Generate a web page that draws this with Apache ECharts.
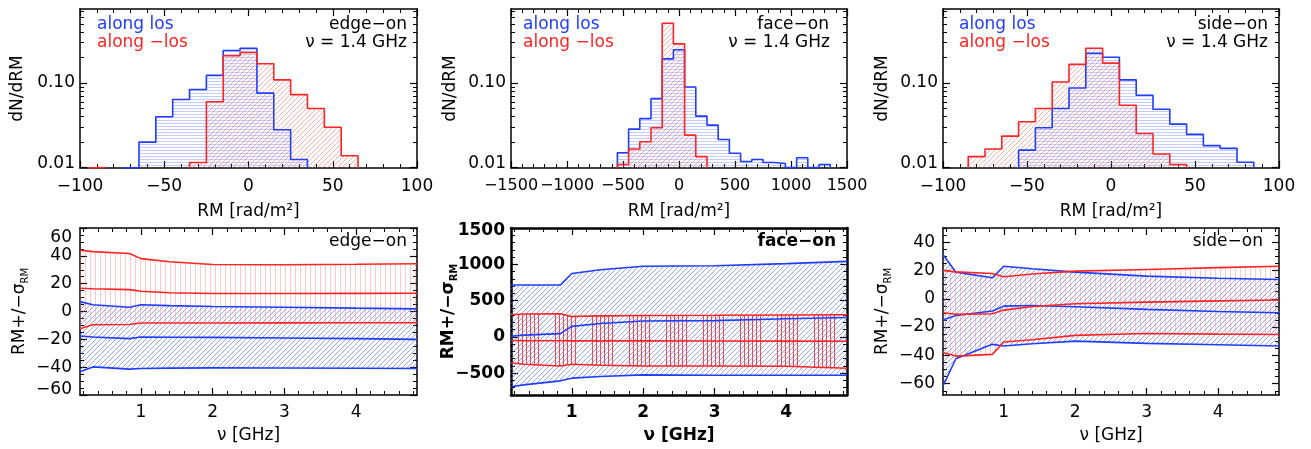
<!DOCTYPE html>
<html>
<head>
<meta charset="utf-8">
<script src="https://cdn.jsdelivr.net/npm/echarts@6/dist/echarts.min.js"></script>
<style>
html, body { margin: 0; padding: 0; background: #fff; }
#main { width: 1311px; height: 449px; }
</style>
</head>
<body>
<div id="main"></div>
<script>
// ---- top row: RM histograms, bin i spans start + i*width .. start + (i+1)*width ----
var edgeLosStart = -75;
var edgeLos = [0.010, 0.020, 0.040, 0.064, 0.084, 0.123, 0.242, 0.257, 0.076, 0.028, 0.0125];
var edgeNegStart = -95;
var edgeNeg = [0.010, null, null, null, null, null, 0.0115, 0.060, 0.21, 0.23, 0.169, 0.109, 0.073, 0.050, 0.030, 0.0138];

var faceLosStart = -550;
var faceLos = [0.0150, 0.0285, 0.038, 0.0655, 0.193, 0.247, 0.0897, 0.0406, 0.0318, 0.0215, 0.0148,
               0.0118, 0.0125, 0.0115, 0.0112, 0.010, 0.0131, 0.010, 0.0109];
var faceNegStart = -550;
var faceNeg = [0.0109, 0.0166, 0.0202, 0.0296, 0.508, 0.29, 0.0242, 0.0135];

var sideLosStart = -55;
var sideLos = [0.0161, 0.0296, 0.050, 0.0873, 0.225, 0.202, 0.109, 0.0716, 0.049, 0.0327, 0.0247, 0.0182, 0.0169, 0.0116];
var sideNegStart = -85;
var sideNeg = [0.0135, 0.0166, 0.0236, 0.0348, 0.050, 0.103, 0.166, 0.258, 0.172, 0.0546, 0.0253, 0.0145, 0.0109];

var smallBinWidth = 10;
var largeBinWidth = 100;

// ---- bottom row: RM and RM +/- sigma versus frequency ----
var freq = [0.15, 0.33, 0.84, 1.0, 1.4, 2.0, 3.0, 4.0, 4.85];

var edgeLosHi  = [7.1, 4.8, 3.1, 4.8, 4.2, 3.6, 3.0, 2.4, 1.9];
var edgeLosMid = [-17.6, -18.3, -19.5, -18.3, -18.5, -18.6, -19.0, -19.5, -20.0];
var edgeLosLo  = [-43.3, -39.8, -41.4, -41.0, -40.7, -40.5, -40.6, -40.8, -41.0];
var edgeNegHi  = [44.0, 43.0, 41.7, 38.0, 35.8, 33.8, 33.6, 33.9, 34.3];
var edgeNegMid = [16.7, 16.3, 15.7, 14.5, 13.5, 12.9, 12.9, 13.0, 13.1];
var edgeNegLo  = [-12.4, -9.5, -9.3, -8.3, -8.3, -8.3, -8.2, -8.1, -8.1];

var faceLosHi  = [714, 714, 714, 873, 925, 973, 980, 1010, 1041];
var faceLosMid = [9, 25, 45, 145, 185, 220, 225, 250, 268];
var faceLosLo  = [-686, -660, -605, -568, -545, -523, -527, -527, -527];
var faceNegHi  = [305, 315, 318, 282, 290, 295, 298, 302, 305];
var faceNegMid = [-50, -52, -52, -55, -55, -55, -56, -58, -59];
var faceNegLo  = [-355, -377, -400, -377, -390, -400, -400, -405, -432];

var sideLosHi  = [31.3, 18.8, 14.8, 23.0, 21.2, 18.8, 16.0, 14.5, 13.6];
var sideLosMid = [-15.0, -11.8, -8.7, -5.2, -4.8, -5.6, -7.5, -9.0, -9.9];
var sideLosLo  = [-61.6, -42.4, -32.2, -33.4, -31.8, -29.9, -31.5, -32.5, -33.4];
var sideNegHi  = [20.0, 19.0, 17.9, 15.5, 17.5, 19.5, 20.7, 22.0, 23.0];
var sideNegMid = [-9.9, -11.0, -10.6, -8.0, -5.5, -3.5, -2.4, -1.5, -0.9];
var sideNegLo  = [-38.0, -40.5, -39.3, -30.6, -29.0, -25.9, -24.5, -25.0, -25.2];

// ---- tick values ----
var rmTicks = [-100, -50, 0, 50, 100];
var rmTicksFace = [-1500, -1000, -500, 0, 500, 1000, 1500];
var logTicks = [0.01, 0.1];
var logMinor = [0.02, 0.03, 0.04, 0.05, 0.06, 0.07, 0.08, 0.09, 0.2, 0.3, 0.4, 0.5, 0.6, 0.7];
var freqTicks = [1, 2, 3, 4];
var edgeTicks = [-60, -40, -20, 0, 20, 40, 60];
var faceTicks = [-500, 0, 500, 1000, 1500];
var sideTicks = [-60, -40, -20, 0, 20, 40];

var BLUE = '#1f3dff';
var RED = '#ff2424';
var FONT = 'DejaVu Sans';
var FS = 17;

function steps(a, b, s, skip) {
    var out = [];
    for (var v = a; v <= b + s * 1e-6; v += s) {
        var r = Math.round(v * 1000) / 1000;
        var hit = skip.some(function (k) { return Math.abs(k - r) < 1e-9; });
        if (!hit) out.push(r);
    }
    return out;
}

function numText(v) {
    return String(Math.round(v * 1000) / 1000).replace('-', '\u2212');
}

// labels that sit on the frame corner are nudged inwards, like the original
var nudge = {
    up: [0, 0, 9, 0],
    upS: [0, 0, 10, 0],
    down: [20, 0, 0, 0],
    downS: [6, 0, 0, 0]
};
function makeFmt(shift, base) {
    return function (v) {
        var t = base ? base(v) : numText(v);
        for (var k in shift) {
            if (Math.abs(Number(k) - v) < 1e-6) return '{' + shift[k] + '|' + t + '}';
        }
        return t;
    };
}

// hatch fills drawn into small repeating tiles, pixel by pixel
function hatch(kind, color, gap, marks) {
    var c = document.createElement('canvas');
    var ctx;
    if (kind === 'h') {
        c.width = 8; c.height = gap;
        ctx = c.getContext('2d');
        ctx.fillStyle = color;
        ctx.fillRect(0, 0, 8, 1);
    } else if (kind === 'v') {
        c.width = gap; c.height = 8;
        ctx = c.getContext('2d');
        ctx.fillStyle = color;
        (marks || [0]).forEach(function (x) { ctx.fillRect(x, 0, 1, 8); });
    } else {
        c.width = gap; c.height = gap;
        ctx = c.getContext('2d');
        ctx.fillStyle = color;
        for (var i = 0; i < gap; i++) ctx.fillRect(i, gap - 1 - i, 1, 1);
    }
    return { image: c, repeat: 'repeat' };
}

var fillHistBlue = hatch('h', 'rgba(110,130,255,0.4)', 3);
var fillHistRed = hatch('d', 'rgba(255,100,100,0.5)', 5);
var fillBandBlue = hatch('d', 'rgba(80,105,255,0.6)', 5);
var fillBandRed = hatch('v', 'rgba(255,120,120,0.4)', 5);
var fillBandRedFace = hatch('v', 'rgb(255,70,70)', 37, [0, 4, 8, 12, 16, 20]);

// one grid gets 4 x axes and 4 y axes: main + minor ticks, mirrored on the opposite side
function axes(dim, gi, o) {
    var sides = dim === 'x' ? ['bottom', 'top'] : ['left', 'right'];
    var list = [];
    var weight = o.bold ? 'bold' : 'normal';
    var rich = {};
    for (var key in nudge) {
        rich[key] = { padding: nudge[key], fontFamily: FONT, fontSize: FS, fontWeight: weight, color: '#000' };
    }
    sides.forEach(function (side, k) {
        list.push({
            type: o.type || 'value', gridIndex: gi, position: side, min: o.min, max: o.max,
            name: k === 0 ? o.name : '', nameLocation: 'middle', nameGap: o.nameGap,
            nameMoveOverlap: false,
            nameTextStyle: { color: '#000', fontFamily: FONT, fontSize: FS, fontWeight: weight, rich: o.rich },
            axisLine: { show: true, onZero: false, lineStyle: { color: '#000', width: o.frame } },
            axisTick: { show: true, inside: true, length: 7, customValues: o.major, lineStyle: { color: '#000', width: 1.2 } },
            axisLabel: {
                show: k === 0, customValues: o.major, margin: o.margin,
                formatter: makeFmt(o.shift || {}, o.fmt),
                color: '#000', fontFamily: FONT, fontSize: o.labelSize || FS, fontWeight: weight,
                showMinLabel: true, showMaxLabel: true, hideOverlap: false, interval: 0,
                rich: rich
            },
            splitLine: { show: false }
        });
        list.push({
            type: o.type || 'value', gridIndex: gi, position: side, min: o.min, max: o.max,
            axisLine: { show: false, onZero: false },
            axisTick: { show: true, inside: true, length: 4, customValues: o.minor, lineStyle: { color: '#000', width: 1 } },
            axisLabel: { show: false },
            splitLine: { show: false }
        });
    });
    return list;
}

function histPoints(start, width, vals, floor) {
    var pts = [];
    var open = false;
    for (var i = 0; i < vals.length; i++) {
        var x0 = start + i * width;
        var x1 = x0 + width;
        var v = vals[i];
        if (v == null) {
            if (open) { pts.push([x0, floor]); pts.push([x0, '-']); open = false; }
            continue;
        }
        if (!open) { pts.push([x0, floor]); open = true; }
        pts.push([x0, v]);
        pts.push([x1, v]);
    }
    if (open) pts.push([start + vals.length * width, floor]);
    return pts;
}

var LOGMIN = 0.0099;

function histSeries(gi, start, width, vals, color, fill) {
    return {
        type: 'line', xAxisIndex: gi * 4, yAxisIndex: gi * 4,
        data: histPoints(start, width, vals, LOGMIN), symbol: 'none', connectNulls: false,
        lineStyle: { color: color, width: 1.6 },
        areaStyle: { color: fill, opacity: 1, origin: 'start' },
        silent: true
    };
}

// area between the sigma curves, drawn as one polygon from the series' own data
function bandSeries(gi, hi, lo, fill) {
    return {
        type: 'custom', xAxisIndex: gi * 4, yAxisIndex: gi * 4, silent: true,
        data: freq.map(function (f, i) { return [f, lo[i], hi[i]]; }),
        encode: { x: 0, y: [1, 2] },
        renderItem: function (params, api) {
            if (params.dataIndexInside !== 0) return null;
            var n = params.dataInsideLength;
            var top = [], bottom = [];
            for (var i = 0; i < n; i++) {
                top.push(api.coord([api.value(0, i), api.value(2, i)]));
                bottom.push(api.coord([api.value(0, i), api.value(1, i)]));
            }
            return {
                type: 'polygon',
                shape: { points: top.concat(bottom.reverse()) },
                style: { fill: fill, stroke: null }
            };
        }
    };
}

function curve(gi, vals, color) {
    return {
        type: 'line', xAxisIndex: gi * 4, yAxisIndex: gi * 4, z: 5,
        data: vals.map(function (v, i) { return [freq[i], v]; }),
        symbol: 'none', lineStyle: { color: color, width: 1.6 }, silent: true
    };
}

var logFmt = function (v) { return v < 0.05 ? '0.01' : '0.10'; };
var sigmaRich = {
    s: { fontFamily: FONT, fontSize: FS, color: '#000' },
    sub: { fontFamily: FONT, fontSize: 10, color: '#000', padding: [10, 0, 0, 0] }
};
var sigmaRichBold = {
    s: { fontFamily: FONT, fontSize: FS, fontWeight: 'bold', color: '#000' },
    sub: { fontFamily: FONT, fontSize: 10, fontWeight: 'bold', color: '#000', padding: [10, 0, 0, 0] }
};
var sigmaName = 'RM+/\u2212{s|\u03c3}{sub|RM}';
var rmName = 'RM [rad/m\u00b2]';
var nuName = '\u03bd [GHz]';

var xAxes = [].concat(
    axes('x', 0, { min: -100, max: 100, major: rmTicks, minor: steps(-100, 100, 10, rmTicks), name: rmName, nameGap: 35, margin: 10, frame: 1.5 }),
    axes('x', 1, { min: -1500, max: 1500, major: rmTicksFace, minor: steps(-1500, 1500, 100, rmTicksFace), name: rmName, nameGap: 35, margin: 10, frame: 1.5, labelSize: 16 }),
    axes('x', 2, { min: -100, max: 100, major: rmTicks, minor: steps(-100, 100, 10, rmTicks), name: rmName, nameGap: 35, margin: 10, frame: 1.5 }),
    axes('x', 3, { min: 0.15, max: 4.85, major: freqTicks, minor: steps(0.2, 4.8, 0.2, freqTicks), name: nuName, nameGap: 32, margin: 9, frame: 1.5 }),
    axes('x', 4, { min: 0.15, max: 4.85, major: freqTicks, minor: steps(0.2, 4.8, 0.2, freqTicks), name: nuName, nameGap: 32, margin: 9, frame: 2.5, bold: true }),
    axes('x', 5, { min: 0.15, max: 4.85, major: freqTicks, minor: steps(0.2, 4.8, 0.2, freqTicks), name: nuName, nameGap: 32, margin: 9, frame: 1.5 })
);

var yAxes = [].concat(
    axes('y', 0, { type: 'log', min: LOGMIN, max: 0.75, major: logTicks, minor: logMinor, fmt: logFmt, shift: { 0.01: 'up' }, name: 'dN/dRM', nameGap: 54, margin: 5, frame: 1.5 }),
    axes('y', 1, { type: 'log', min: LOGMIN, max: 0.75, major: logTicks, minor: logMinor, fmt: logFmt, shift: { 0.01: 'up' }, name: 'dN/dRM', nameGap: 52, margin: 5, frame: 1.5 }),
    axes('y', 2, { type: 'log', min: LOGMIN, max: 0.75, major: logTicks, minor: logMinor, fmt: logFmt, shift: { 0.01: 'up' }, name: 'dN/dRM', nameGap: 52, margin: 5, frame: 1.5 }),
    axes('y', 3, { min: -60, max: 60, major: edgeTicks, minor: steps(-60, 60, 5, edgeTicks), shift: { 60: 'down', '-60': 'upS' }, name: sigmaName, rich: sigmaRich, nameGap: 50, margin: 8, frame: 1.5 }),
    axes('y', 4, { min: -800, max: 1500, major: faceTicks, minor: steps(-800, 1500, 100, faceTicks), shift: { 1500: 'downS' }, name: sigmaName, rich: sigmaRichBold, nameGap: 52, margin: 6, frame: 2.5, bold: true }),
    axes('y', 5, { min: -68, max: 50, major: sideTicks, minor: steps(-65, 50, 5, sideTicks), name: sigmaName, rich: sigmaRich, nameGap: 50, margin: 8, frame: 1.5 })
);

var series = [].concat(
    histSeries(0, edgeLosStart, smallBinWidth, edgeLos, BLUE, fillHistBlue),
    histSeries(0, edgeNegStart, smallBinWidth, edgeNeg, RED, fillHistRed),
    histSeries(1, faceLosStart, largeBinWidth, faceLos, BLUE, fillHistBlue),
    histSeries(1, faceNegStart, largeBinWidth, faceNeg, RED, fillHistRed),
    histSeries(2, sideLosStart, smallBinWidth, sideLos, BLUE, fillHistBlue),
    histSeries(2, sideNegStart, smallBinWidth, sideNeg, RED, fillHistRed),

    bandSeries(3, edgeLosHi, edgeLosLo, fillBandBlue),
    bandSeries(3, edgeNegHi, edgeNegLo, fillBandRed),
    curve(3, edgeLosHi, BLUE), curve(3, edgeLosMid, BLUE), curve(3, edgeLosLo, BLUE),
    curve(3, edgeNegHi, RED), curve(3, edgeNegMid, RED), curve(3, edgeNegLo, RED),

    bandSeries(4, faceLosHi, faceLosLo, fillBandBlue),
    bandSeries(4, faceNegHi, faceNegLo, fillBandRedFace),
    curve(4, faceLosHi, BLUE), curve(4, faceLosMid, BLUE), curve(4, faceLosLo, BLUE),
    curve(4, faceNegHi, RED), curve(4, faceNegMid, RED), curve(4, faceNegLo, RED),

    bandSeries(5, sideNegHi, sideNegLo, fillBandRed),
    bandSeries(5, sideLosHi, sideLosLo, fillBandBlue),
    curve(5, sideLosHi, BLUE), curve(5, sideLosMid, BLUE), curve(5, sideLosLo, BLUE),
    curve(5, sideNegHi, RED), curve(5, sideNegMid, RED), curve(5, sideNegLo, RED)
);

function label(text, color, pos, bold) {
    var el = { type: 'text', top: pos.top, z: 100, style: { text: text, fill: color, font: (bold ? 'bold ' : '') + FS + 'px "' + FONT + '"' } };
    if (pos.left != null) el.left = pos.left;
    if (pos.right != null) el.right = pos.right;
    return el;
}

var graphics = [
    label('along los', BLUE, { left: 97, top: 16 }),
    label('along \u2212los', RED, { left: 97, top: 34 }),
    label('edge\u2212on', '#000', { right: 904, top: 16 }),
    label('\u03bd = 1.4 GHz', '#000', { right: 904, top: 34 }),
    label('along los', BLUE, { left: 523, top: 16 }),
    label('along \u2212los', RED, { left: 523, top: 34 }),
    label('face\u2212on', '#000', { right: 482, top: 16 }),
    label('\u03bd = 1.4 GHz', '#000', { right: 481, top: 34 }),
    label('along los', BLUE, { left: 959, top: 16 }),
    label('along \u2212los', RED, { left: 959, top: 34 }),
    label('side\u2212on', '#000', { right: 43, top: 16 }),
    label('\u03bd = 1.4 GHz', '#000', { right: 43, top: 34 }),
    label('edge\u2212on', '#000', { right: 904, top: 233 }),
    label('face\u2212on', '#000', { right: 475, top: 233 }, true),
    label('side\u2212on', '#000', { right: 48, top: 233 })
];

var myChart = echarts.init(document.getElementById('main'));
myChart.setOption({
    animation: false,
    backgroundColor: '#fff',
    grid: [
        { left: 80, top: 9, width: 337, height: 159, outerBoundsMode: 'none' },
        { left: 511, top: 9, width: 336, height: 159, outerBoundsMode: 'none' },
        { left: 943, top: 9, width: 336, height: 159, outerBoundsMode: 'none' },
        { left: 80, top: 228, width: 337, height: 167, outerBoundsMode: 'none' },
        { left: 511, top: 228, width: 336, height: 167, outerBoundsMode: 'none' },
        { left: 943, top: 228, width: 336, height: 167, outerBoundsMode: 'none' }
    ],
    xAxis: xAxes,
    yAxis: yAxes,
    series: series,
    graphic: graphics
});
</script>
</body>
</html>
